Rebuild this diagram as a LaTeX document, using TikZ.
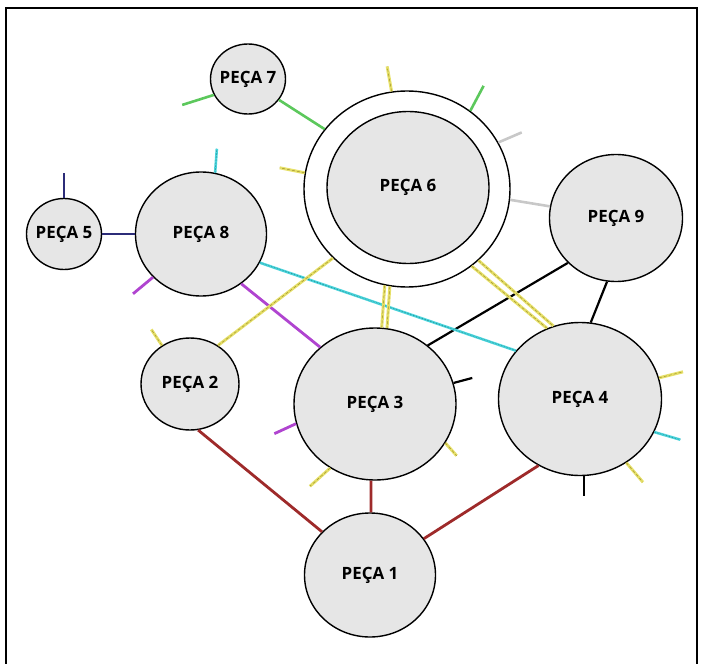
\documentclass[tikz,border=0pt]{standalone}
\usepackage{fontspec}
\setmainfont{Open Sans}
\usetikzlibrary{shapes.geometric}

\definecolor{piecefill}{HTML}{E6E6E6}
\definecolor{redlink}{HTML}{9E2A2A}
\definecolor{greenlink}{HTML}{5CC85C}
\definecolor{graylink}{HTML}{C8C8C8}
\definecolor{navylink}{HTML}{2C2C78}
\definecolor{cyanlink}{HTML}{48D4DC}
\definecolor{cyancore}{HTML}{2A8C90}
\definecolor{purplelink}{HTML}{B044D0}
\definecolor{yellowlink}{HTML}{E6E068}
\definecolor{olivecore}{HTML}{A09232}

% a label that does not widen the piece around it
\newcommand\tightlabel[1]{\makebox[0pt]{#1}}

\tikzset{
  piece/.style={ellipse, draw=black, line width=1.4bp, fill=piecefill,
    inner sep=0pt, font=\fontsize{17}{19}\selectfont\bfseries},
  ring/.style={ellipse, draw=black, line width=1.4bp, fill=white, inner sep=0pt},
  redln/.style={draw=redlink, line width=2.8bp},
  blackln/.style={draw=black, line width=2.2bp},
  grayln/.style={draw=graylink, line width=2.6bp},
  greenln/.style={draw=greenlink, line width=2.6bp},
  navyln/.style={draw=navylink, line width=2bp},
  cyanln/.style={draw=cyanlink, line width=2.6bp,
    postaction={draw=cyancore, line width=0.5bp, dash pattern=on 1.5bp off 1.5bp}},
  purpleln/.style={draw=purplelink, line width=2.8bp},
  yellowln/.style={draw=yellowlink, line width=3bp,
    postaction={draw=olivecore, line width=0.5bp, dash pattern=on 3bp off 2bp}},
}

\begin{document}
\begin{tikzpicture}[x=1bp, y=-1bp]
\useasboundingbox (0,0) rectangle (704,664);

% frame
\draw[line width=2bp] (6,664) -- (6,8) -- (697,8) -- (697,664);

% pieces
\node[ring, minimum width=206bp, minimum height=196bp] (p6o) at (407,189) {};
\node[piece, minimum width=162bp, minimum height=152bp] (p6) at (408,187.5) {\tightlabel{PEÇA 6}};
\node[piece, minimum width=131bp, minimum height=124bp] (p1) at (370,575) {\tightlabel{PEÇA 1}};
\node[piece, minimum width=98bp,  minimum height=92bp]  (p2) at (190,384) {\tightlabel{PEÇA 2}};
\node[piece, minimum width=162bp, minimum height=152bp] (p3) at (375,404) {\tightlabel{PEÇA 3}};
\node[piece, minimum width=163bp, minimum height=153bp] (p4) at (580,399) {\tightlabel{PEÇA 4}};
\node[piece, minimum width=75bp,  minimum height=71bp]  (p5) at (64,234)  {\tightlabel{PEÇA 5}};
\node[piece, minimum width=75bp,  minimum height=70bp]  (p7) at (248,79)  {\tightlabel{PEÇA 7}};
\node[piece, minimum width=131bp, minimum height=124bp] (p8) at (201,234) {\tightlabel{PEÇA 8}};
\node[piece, minimum width=133bp, minimum height=127bp] (p9) at (616,218) {\tightlabel{PEÇA 9}};

% red links
\draw[redln] (p2.-80) -- (p1.138);
\draw[redln] (p3.-93) -- (p1.89);
\draw[redln] (p4.-122) -- (p1.34);

% black links
\draw[blackln] (p9.-137) -- (p3.48.7);
\draw[blackln] (p9.-98) -- (p4.82.5);
\draw[blackln] (p3.15) -- ++(18.7,-5);
\draw[blackln] (p4.-87) -- ++(0,20);

% gray links
\draw[grayln] (p6o.-6) -- (p9.170);
\draw[grayln] (p6o.27) -- ++(23.3,-10);

% green links
\draw[greenln] (p7.-34.7) -- (p6o.144.8);
\draw[greenln] (p7.-155) -- ++(-31.6,10);
\draw[greenln] (p6o.51) -- ++(13.3,-25);

% navy links
\draw[navyln] (p5.east) -- (p8.west);
\draw[navyln] (p5.north) -- ++(0,-25);

% cyan links
\draw[cyanln] (p8.-26.4) -- (p4.143.7);
\draw[cyanln] (p8.77) -- ++(1.7,-24);
\draw[cyanln] (p4.-24) -- ++(26,7.6);

% purple links
\draw[purpleln] (p8.-51.4) -- (p3.134.6);
\draw[purpleln] (p8.-138) -- ++(-20,16.6);
\draw[purpleln] (p3.-166) -- ++(-21.7,10);

% yellow links
\draw[yellowln] (p2.54) -- (p6o.-137);
\draw[yellowln] (p6o.-103.5) -- (p3.85.5);
\draw[yellowln] (p6o.-100.1) -- (p3.81);
\draw[yellowln] (p6o.-50.8) -- (p4.115);
\draw[yellowln] (p6o.-45.8) -- (p4.110.5);
\draw[yellowln] (p2.126) -- ++(-10.7,-16);
\draw[yellowln] (p6o.99) -- ++(-4.4,-25);
\draw[yellowln] (p6o.171) -- ++(-25,-5);
\draw[yellowln] (p3.-125) -- ++(-20.2,18.2);
\draw[yellowln] (p3.-29) -- ++(11.3,12.7);
\draw[yellowln] (p4.15.6) -- ++(24,-6);
\draw[yellowln] (p4.-54) -- ++(16.6,19.4);
\end{tikzpicture}
\end{document}
